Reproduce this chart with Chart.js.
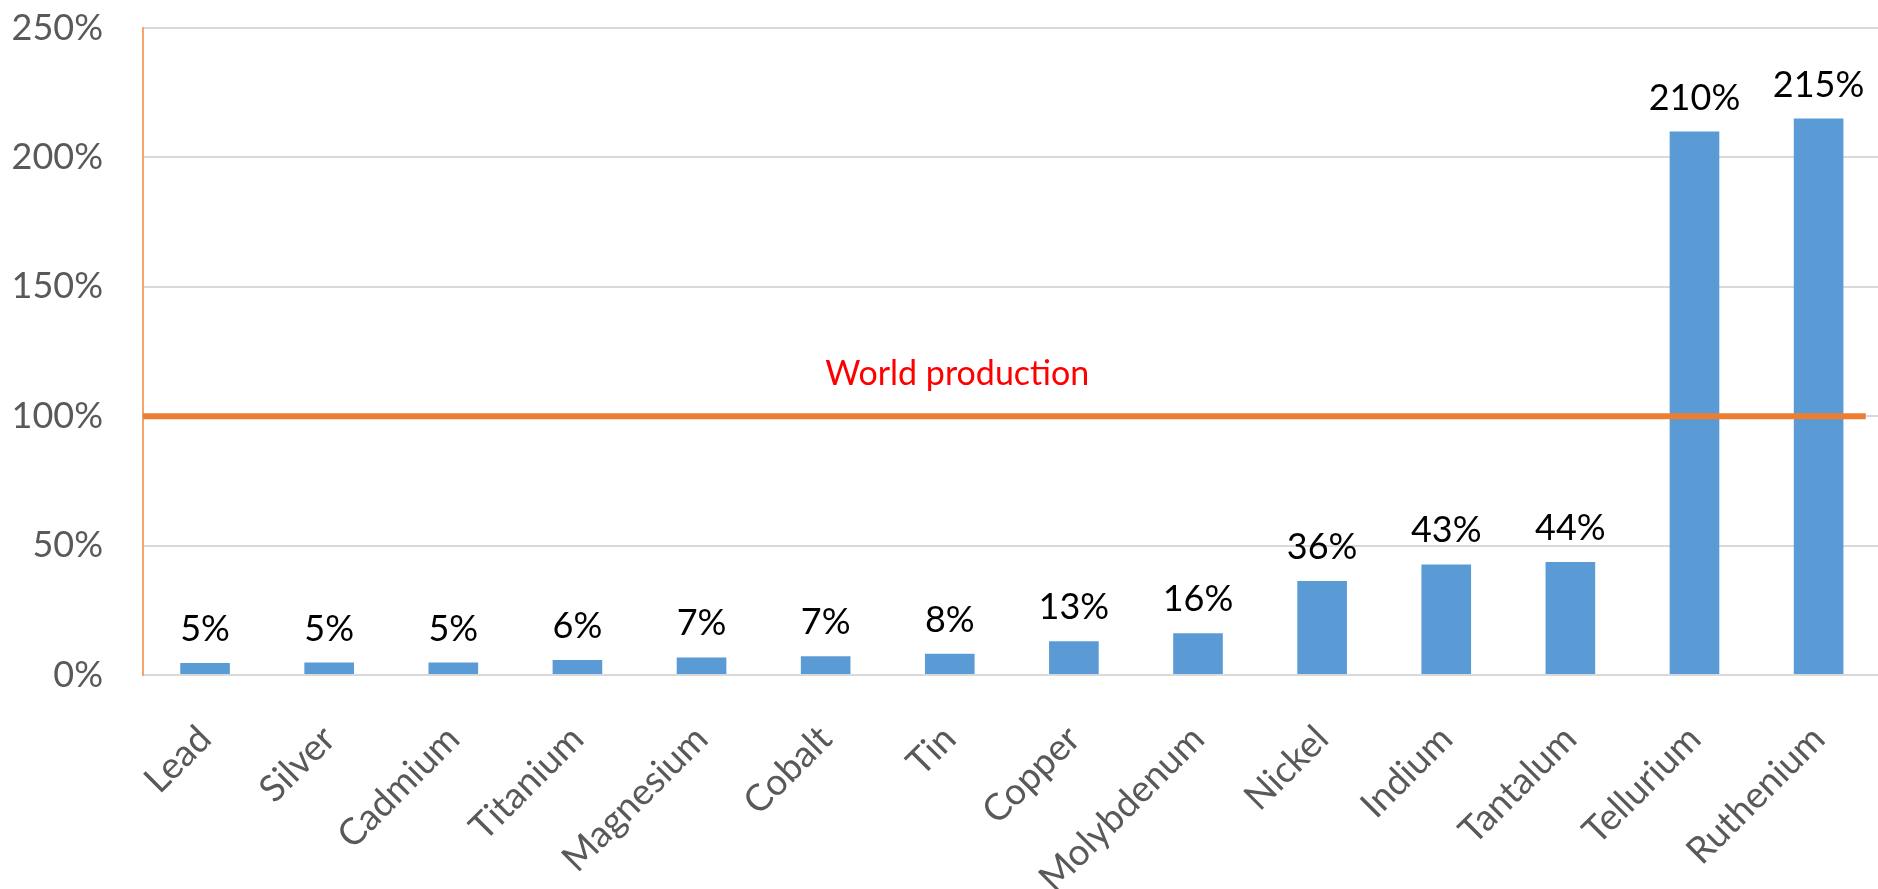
<!DOCTYPE html>
<html>
<head>
<meta charset="utf-8">
<script src="https://cdn.jsdelivr.net/npm/chart.js@4"></script>
<style>
  html, body { margin: 0; padding: 0; background: #fff; overflow: hidden; }
  canvas { display: block; }
</style>
</head>
<body>
<canvas id="metalsChart" width="1892" height="889"></canvas>
<script>
const metals = ['Lead', 'Silver', 'Cadmium', 'Titanium', 'Magnesium', 'Cobalt', 'Tin',
    'Copper', 'Molybdenum', 'Nickel', 'Indium', 'Tantalum', 'Tellurium', 'Ruthenium'];
const shareOfProduction = [4.6, 4.8, 4.8, 5.8, 6.8, 7.2, 8.2, 13.0, 16.1, 36.3, 42.7, 43.7, 210, 215];
const worldLineX = [0, 13.88];
const worldLineY = [100, 100];
const yTicks = [0, 50, 100, 150, 200, 250];

Chart.defaults.font.family = 'Lato';

// labels above the bars and the "World production" caption
const labelPlugin = {
    id: 'barLabels',
    afterDatasetsDraw(chart) {
        const ctx = chart.ctx;
        const meta = chart.getDatasetMeta(1);
        ctx.save();
        ctx.font = '36px Lato';
        ctx.fillStyle = '#000';
        ctx.textAlign = 'center';
        ctx.textBaseline = 'alphabetic';
        meta.data.forEach((bar, i) => {
            ctx.fillText(Math.round(shareOfProduction[i]) + '%', bar.x, bar.y - 22);
        });
        const x2 = chart.scales.x2, y = chart.scales.y;
        ctx.font = '34px Lato';
        ctx.fillStyle = '#FF0000';
        ctx.fillText('World production', x2.getPixelForValue(6.56), y.getPixelForValue(worldLineY[0]) - 31);
        ctx.restore();
    }
};

const ctx = document.getElementById('metalsChart').getContext('2d');
const metalsChart = new Chart(ctx, {
    type: 'bar',
    data: {
        labels: metals,
        datasets: [{
            type: 'line',
            label: 'World production',
            data: worldLineX.map((x, i) => ({ x: x, y: worldLineY[i] })),
            xAxisID: 'x2',
            borderColor: '#ED7D31',
            borderWidth: 6,
            pointRadius: 0,
            order: 0
        }, {
            type: 'bar',
            label: 'Share of world production',
            data: shareOfProduction,
            xAxisID: 'x',
            backgroundColor: '#5B9BD5',
            barPercentage: 0.4,
            categoryPercentage: 1,
            grouped: false,
            order: 1
        }]
    },
    options: {
        responsive: false,
        animation: false,
        layout: { padding: 0 },
        plugins: {
            legend: { display: false },
            tooltip: { enabled: false }
        },
        scales: {
            x: {
                grid: { display: false, drawTicks: false },
                border: { color: '#D9D9D9', width: 2 },
                ticks: {
                    color: '#595959',
                    font: { size: 37 },
                    maxRotation: 45,
                    minRotation: 45,
                    padding: 42,
                    autoSkip: false
                },
                afterFit(scale) { scale.height = 214; }
            },
            x2: {
                type: 'linear',
                display: false,
                offset: false,
                min: 0,
                max: 14
            },
            y: {
                min: 0,
                max: 250,
                afterBuildTicks(scale) { scale.ticks = yTicks.map(v => ({ value: v })); },
                grid: { color: '#D9D9D9', lineWidth: 2, drawTicks: false },
                border: { color: '#F4A46C', width: 2 },
                ticks: {
                    color: '#595959',
                    font: { size: 36 },
                    padding: 40,
                    callback: v => v + '%'
                },
                afterFit(scale) {
                    scale.width = 143;
                    scale.paddingTop = 28;
                    scale.paddingBottom = 20;
                }
            }
        }
    },
    plugins: [labelPlugin]
});
</script>
</body>
</html>
